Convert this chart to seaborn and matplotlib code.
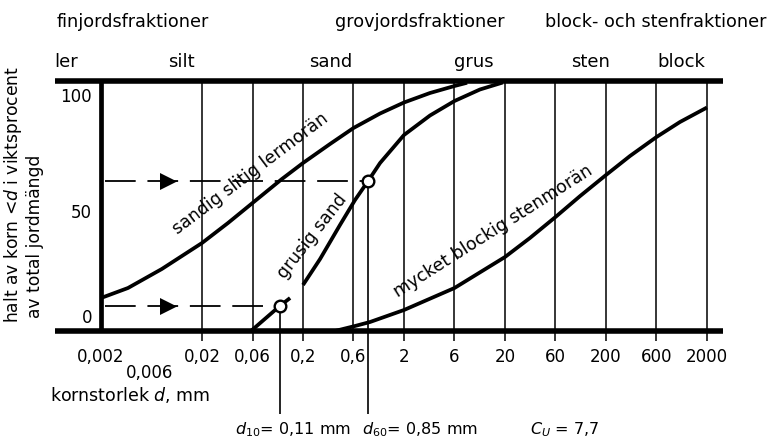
import matplotlib
matplotlib.use("Agg")
import numpy as np
import matplotlib.pyplot as plt
import matplotlib.transforms as mtransforms
import seaborn as sns

# Grain size grid (mm) drawn as vertical lines, with bottom labels
GRID_SIZES = [0.002, 0.02, 0.06, 0.2, 0.6, 2, 6, 20, 60, 200, 600, 2000]
GRID_LABELS = ['0,002', '0,02', '0,06', '0,2', '0,6', '2', '6', '20', '60', '200', '600', '2000']
EXTRA_SIZES = [0.006]
EXTRA_LABELS = ['0,006']

Y_TICKS = [0, 50, 100]
Y_TICK_LABELS = ['0', '50', '100']

# Grading curves: grain size (mm) and percent finer
LERMORAN_D = [0.002, 0.0037, 0.008, 0.02, 0.0352, 0.06, 0.121, 0.2, 0.36, 0.6, 1.13, 2, 3.52, 6, 8.1]
LERMORAN_P = [13.2, 17.2, 24.8, 35.2, 43.2, 51.2, 60.8, 67.2, 74.8, 81.2, 87, 91.4, 95.2, 98, 99.3]

GRUS_LOW_D = [0.058, 0.115, 0.147]
GRUS_LOW_P = [0, 10, 13.2]
GRUS_HIGH_D = [0.2, 0.29, 0.447, 0.622, 0.85, 1.13, 2, 3.52, 6, 11, 19]
GRUS_HIGH_P = [18.4, 28.8, 42.4, 52.4, 60, 67.2, 78.4, 86.2, 92, 96.6, 99.4]

STENMORAN_D = [0.4, 0.622, 0.89, 2, 6, 20, 34.4, 60, 108, 200, 337, 600, 1050, 2000]
STENMORAN_P = [0, 2, 3.6, 8.4, 17.2, 29.6, 37.2, 45.6, 54, 62.4, 70, 77.6, 83.6, 89.4]

# d10 / d60 of the gravelly sand
D_VALUES = [0.115, 0.85]
P_VALUES = [10, 60]
ARROW_D = 0.0093
DASH_START_D = 0.0022

GROUP_NAMES = ['finjordsfraktioner', 'grovjordsfraktioner', 'block- och stenfraktioner']
FRACTION_NAMES = ['ler', 'silt', 'sand', 'grus', 'sten', 'block']

W, H = 769, 438

# The printed grid is evenly spaced per 1-2-6 step (a decade = 2 steps at the
# fine end), so the x axis is a piecewise log scale through the grid sizes.
_LOGK = np.log10(GRID_SIZES)
_POS = np.array([0, 2, 3, 4, 5, 6, 7, 8, 9, 10, 11, 12], dtype=float)
_LOGK_EXT = np.concatenate([[_LOGK[0] - 10], _LOGK, [_LOGK[-1] + 10]])
_POS_EXT = np.concatenate([[_POS[0] - 20], _POS, [_POS[-1] + 10 / np.log10(2000 / 600)]])


def size_forward(d):
    d = np.clip(np.asarray(d, dtype=float), 1e-12, None)
    return np.interp(np.log10(d), _LOGK_EXT, _POS_EXT)


def size_inverse(s):
    return 10 ** np.interp(np.asarray(s, dtype=float), _POS_EXT, _LOGK_EXT)


def fx(x):
    return x / W


def fy(y):
    return 1 - y / H


def setup_axes(fig):
    """
    Axes with the grain size scale, framed by two thick horizontal bars.
    """
    ax = fig.add_axes([fx(55), fy(331), (723 - 55) / W, 250 / H])
    ax.set_xscale('function', functions=(size_forward, size_inverse))
    ax.set_xlim(size_inverse(-0.911), size_inverse(12.317))
    ax.set_ylim(0, 100)
    for spine in ax.spines.values():
        spine.set_visible(False)
    ax.set_yticks([])

    ax.set_xticks(GRID_SIZES, GRID_LABELS)
    ax.set_xticks(EXTRA_SIZES, EXTRA_LABELS, minor=True)
    ax.tick_params(axis='x', which='major', length=0, pad=11.9, labelsize=12)
    ax.tick_params(axis='x', which='minor', length=0, pad=24.1, labelsize=12)

    # grid lines poke out a little under the bottom bar
    ax.vlines(GRID_SIZES[1:], -4, 100, colors='black', lw=1.1, clip_on=False, zorder=1)
    ax.vlines(GRID_SIZES[0], 0, 100, colors='black', lw=3.4, zorder=2)
    for level in [0, 100]:
        ax.axhline(level, color='black', lw=4, clip_on=False, solid_capstyle='butt', zorder=3)

    # y tick labels sit a bit off their levels in the original
    offsets = {0: 3.1, 50: -4.9, 100: -8.3}
    trans = mtransforms.blended_transform_factory(ax.transAxes, ax.transData)
    for val, lab in zip(Y_TICKS, Y_TICK_LABELS):
        ax.text((92 - 55) / 668, val + offsets[val], lab, transform=trans,
                ha='right', va='baseline', fontsize=12)
    return ax


def draw_curves(ax):
    """
    Draw the three grading curves.
    """
    line_kw = dict(color='black', linewidth=2.7, sort=False, estimator=None, ax=ax,
                   solid_joinstyle='round', solid_capstyle='butt')
    sns.lineplot(x=LERMORAN_D, y=LERMORAN_P, **line_kw)
    sns.lineplot(x=GRUS_LOW_D, y=GRUS_LOW_P, **line_kw)
    sns.lineplot(x=GRUS_HIGH_D, y=GRUS_HIGH_P, **line_kw)
    sns.lineplot(x=STENMORAN_D, y=STENMORAN_P, **line_kw)


def draw_d_markers(ax):
    """
    Dashed arrows to the d10 / d60 points and the drop lines below.
    """
    for d, p in zip(D_VALUES, P_VALUES):
        ax.plot([DASH_START_D, d], [p, p], color='black', lw=1.3, dashes=(17, 6.5), zorder=2)
    ax.vlines(D_VALUES, -33, P_VALUES, colors='black', lw=1.2, clip_on=False, zorder=2)
    sns.scatterplot(x=[ARROW_D] * len(P_VALUES), y=P_VALUES, marker='>', s=150,
                    color='black', linewidth=0, zorder=4, ax=ax)
    sns.scatterplot(x=D_VALUES, y=P_VALUES, s=70, color='white', edgecolor='black',
                    linewidth=1.7, zorder=5, ax=ax)


def add_texts(fig):
    """
    Headings, axis titles, curve names and the d10/d60/Cu note.
    """
    group_x = [57, 335, 545]
    for x, name in zip(group_x, GROUP_NAMES):
        fig.text(fx(x), fy(27), name, ha='left', va='baseline', fontsize=12.7)

    frac_x = [66, 181, 331, 474, 591, 681]
    for x, name in zip(frac_x, FRACTION_NAMES):
        fig.text(fx(x), fy(67), name, ha='center', va='baseline', fontsize=13)

    fig.text(fx(13.5), fy(323), r'halt av korn <$d$ i viktsprocent', rotation=90,
             ha='center', va='bottom', fontsize=12.3)
    fig.text(fx(35.5), fy(318), 'av total jordmängd', rotation=90,
             ha='center', va='bottom', fontsize=12.3)
    fig.text(fx(50), fy(401), r'kornstorlek $d$, mm', ha='left', va='baseline', fontsize=12.5)

    curve_labels = [
        ('sandig slitig lermorän', 250, 174, 37),
        ('grusig sand', 312, 236, 52),
        ('mycket blockig stenmorän', 493, 231, 32.4),
    ]
    for text, x, y, rot in curve_labels:
        fig.text(fx(x), fy(y), text, rotation=rot, rotation_mode='anchor',
                 ha='center', va='center', fontsize=12.5)

    fig.text(fx(235), fy(434), r'$d_{\mathit{10}}$= 0,11 mm', ha='left', va='baseline', fontsize=11.5)
    fig.text(fx(362), fy(434), r'$d_{\mathit{60}}$= 0,85 mm', ha='left', va='baseline', fontsize=11.5)
    fig.text(fx(530), fy(434), r'$C_U$ = 7,7', ha='left', va='baseline', fontsize=11.5)


if __name__ == "__main__":
    sns.set_style('white')
    plt.rcParams['font.family'] = ['DejaVu Sans']
    plt.rcParams['text.color'] = 'black'
    plt.rcParams['xtick.color'] = 'black'
    plt.rcParams['xtick.labelcolor'] = 'black'

    fig = plt.figure(figsize=(W / 100, H / 100), dpi=100)
    ax = setup_axes(fig)
    draw_curves(ax)
    draw_d_markers(ax)
    add_texts(fig)

    fig.savefig('out.png', dpi=100, facecolor='white')
    print("Saved out.png")
